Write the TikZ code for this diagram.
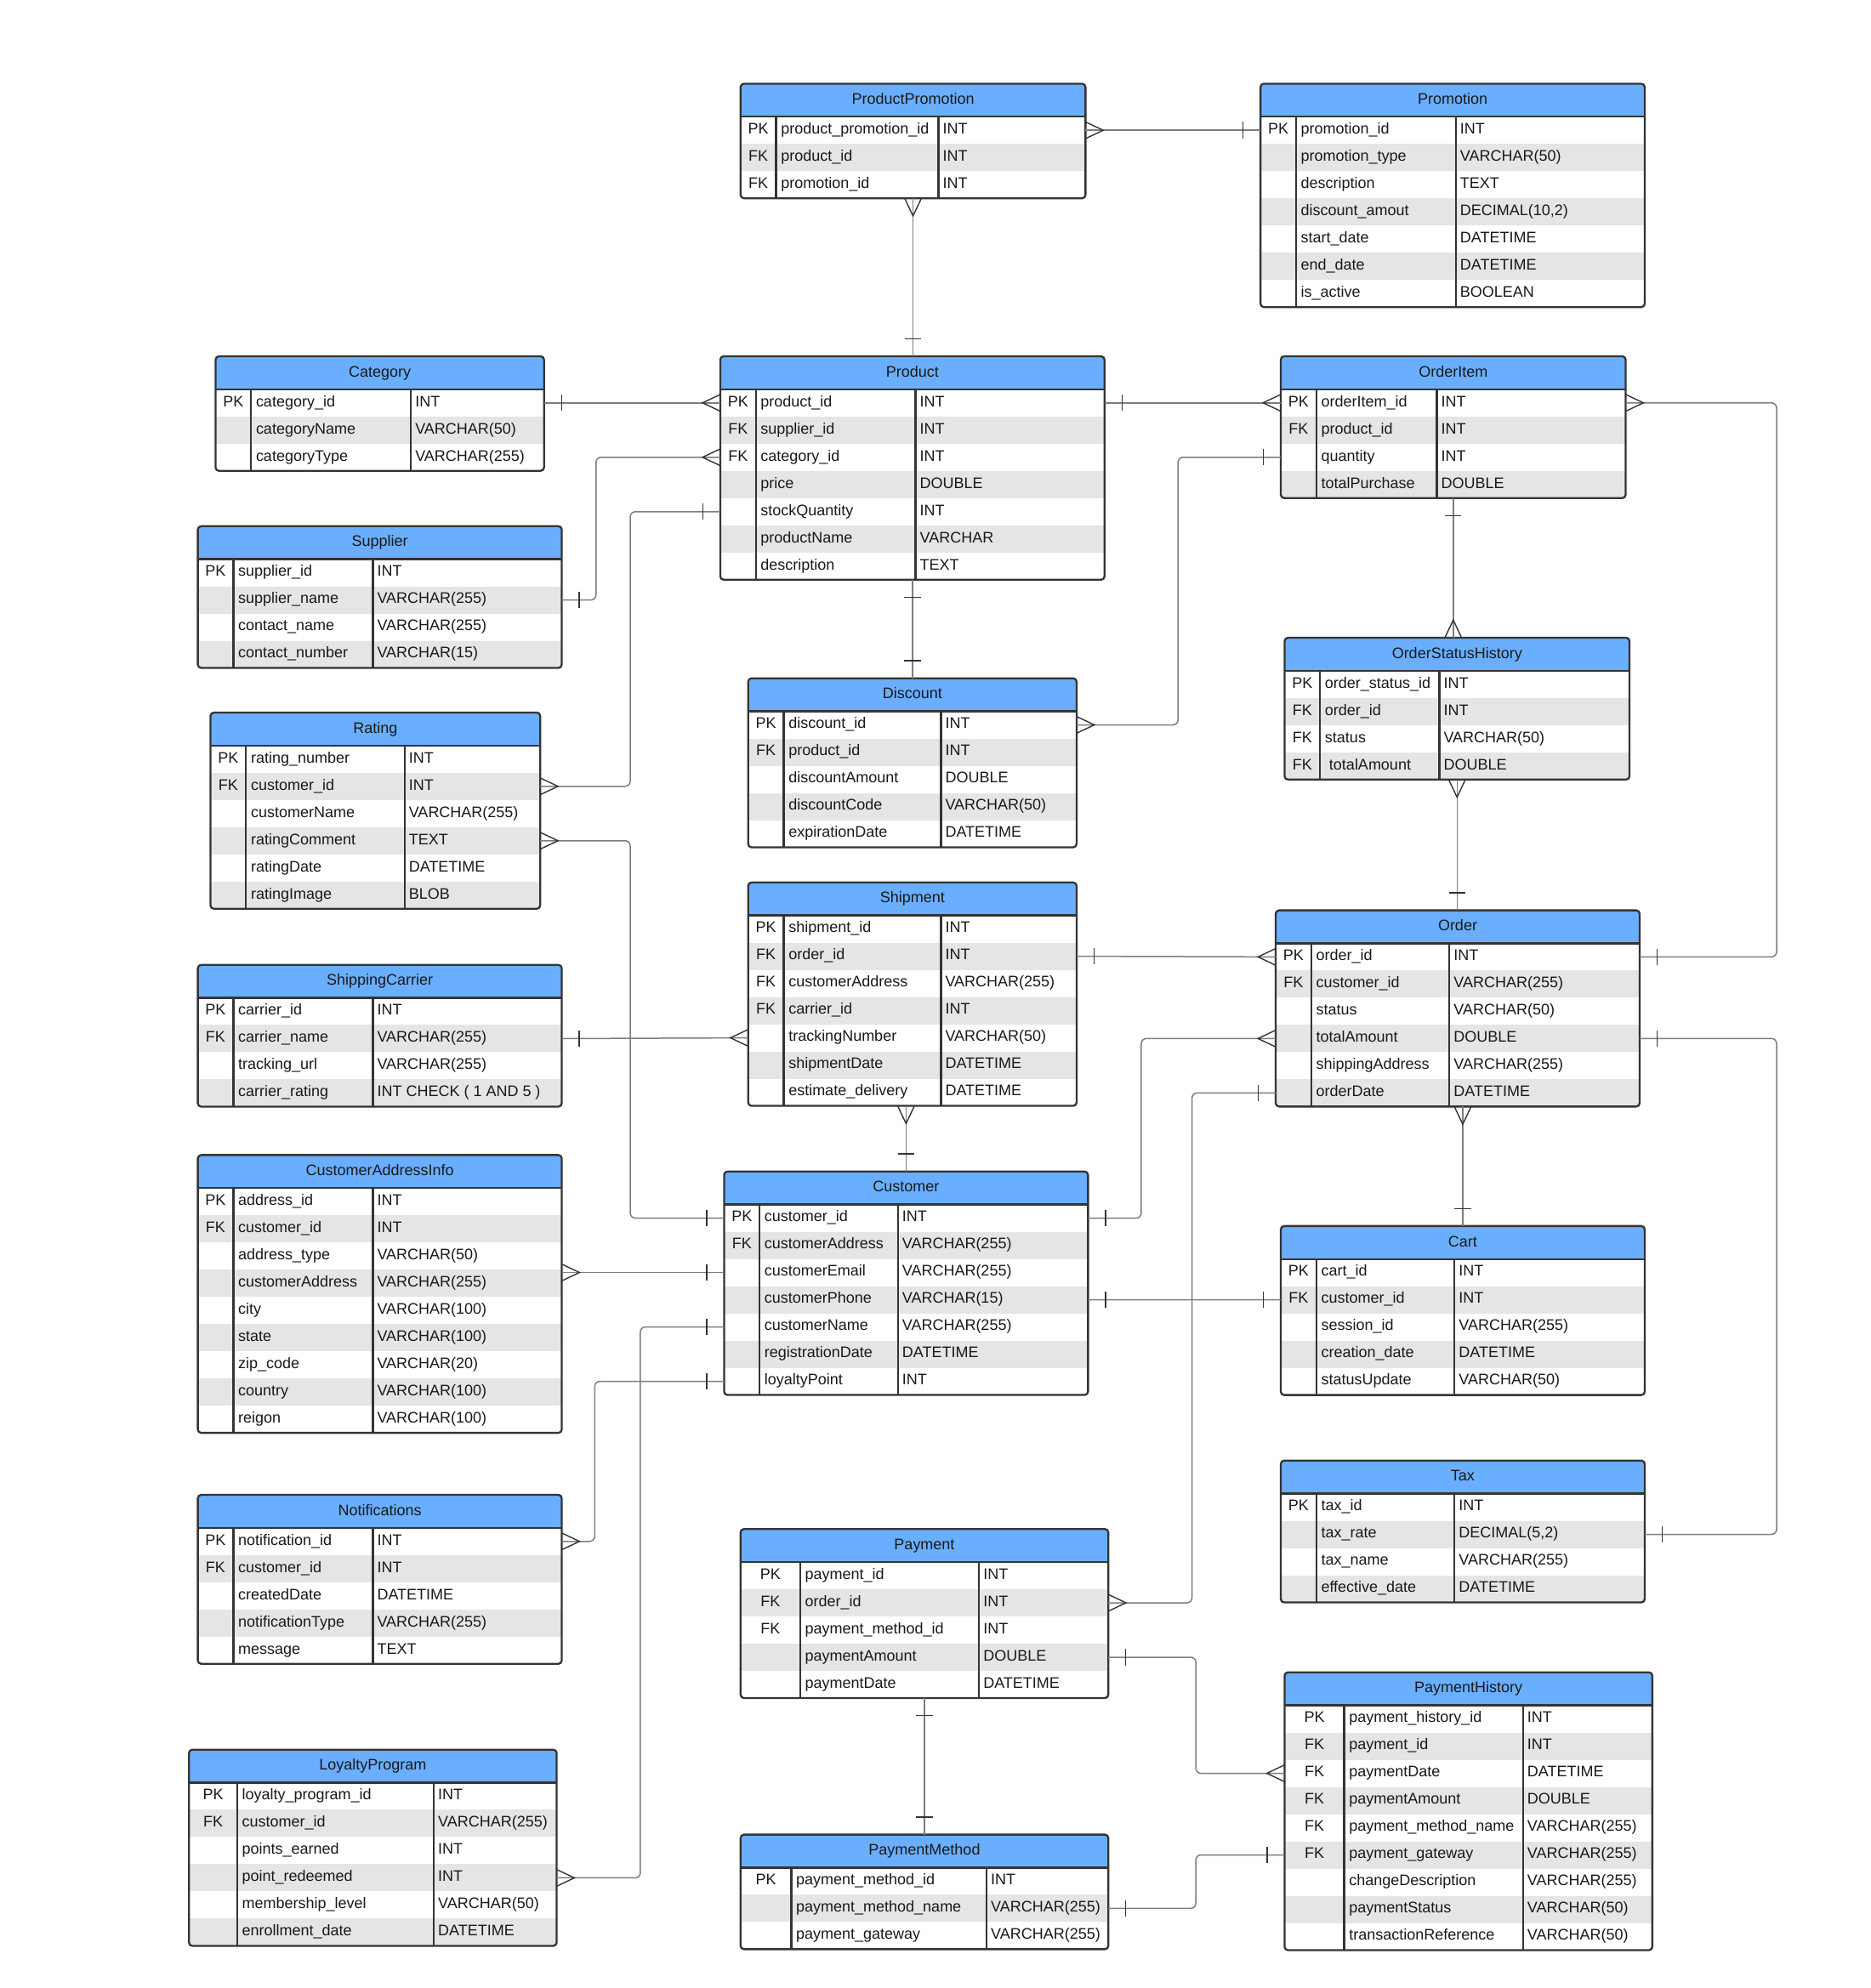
\documentclass[tikz,border=0pt]{standalone}
\usepackage{fontspec}
\setmainfont{Liberation Sans}
\usetikzlibrary{calc}

\definecolor{hdr}{RGB}{106,174,255}
\definecolor{stripe}{RGB}{229,229,229}
\definecolor{edge}{RGB}{52,52,52}
\definecolor{wire}{RGB}{125,125,125}
\definecolor{ink}{RGB}{25,25,25}

\tikzset{
  cell/.style={font=\fontsize{9}{11}\selectfont, text=ink, inner sep=0pt},
  conn/.style={draw=wire, line width=0.75pt, rounded corners=3pt},
  markline/.style={draw=edge, line width=0.7pt},
  tableline/.style={draw=edge, line width=1.15pt},
}

% One entity table: #1 id, #2 left, #3 key divider, #4 name divider,
% #5 right, #6 top, #7 title, #8 rows as key/name/type
\newcommand{\erTable}[8]{%
  \begin{scope}
    \foreach [count=\ri] \rk/\rn/\rt in {#8} {\xdef\nrows{\ri}}
    \pgfmathsetmacro{\hb}{#6+26}
    \pgfmathsetmacro{\tb}{\hb+\nrows*21.46}
    \begin{scope}
      \clip[rounded corners=2pt] (#2,#6) rectangle (#5,\tb);
      \fill[white] (#2,#6) rectangle (#5,\tb);
      \fill[hdr] (#2,#6) rectangle (#5,\hb);
      \foreach [count=\ri] \rk/\rn/\rt in {#8} {
        \pgfmathsetmacro{\ya}{\hb+(\ri-1)*21.46}
        \pgfmathsetmacro{\yb}{\ya+21.46}
        \pgfmathsetmacro{\yc}{\ya+10.73}
        \ifodd\ri\relax\else\fill[stripe] (#2,\ya) rectangle (#5,\yb);\fi
        \node[cell, anchor=base] at ({(#2+#3)/2},\yc+2.9) {\rk};
        \node[cell, anchor=base west] at (#3+3.6,\yc+2.9) {\rn};
        \node[cell, anchor=base west] at (#4+3.2,\yc+2.9) {\rt};
        \coordinate (#1-\ri-w) at (#2,\yc);
        \coordinate (#1-\ri-e) at (#5,\yc);
      }
    \end{scope}
    \node[cell, anchor=base] (#1-title) at ({(#2+#5)/2},#6+16.2) {#7};
    \draw[tableline] (#2,\hb) -- (#5,\hb);
    \draw[tableline] (#3,\hb) -- (#3,\tb);
    \draw[tableline] (#4,\hb) -- (#4,\tb);
    \draw[tableline, rounded corners=2pt] (#2,#6) rectangle (#5,\tb);
    \coordinate (#1-n) at ({(#2+#5)/2},#6);
    \coordinate (#1-s) at ({(#2+#5)/2},\tb);
  \end{scope}%
}

% crow's foot (many) and bar (one) at a table edge, #2 = outward angle
\newcommand{\many}[2]{%
  \begin{scope}[shift={(#1)}, rotate=#2]
    \draw[markline] (0,6.6) -- (14,0) -- (0,-6.6);
  \end{scope}}
\newcommand{\one}[2]{%
  \begin{scope}[shift={(#1)}, rotate=#2]
    \draw[markline] (13.8,6.5) -- (13.8,-6.5);
  \end{scope}}

\begin{document}
\begin{tikzpicture}[x=0.74575pt, y=-0.74575pt]
\useasboundingbox (0,0) rectangle (1475,1568);
\fill[white] (0,0) rectangle (1475,1568);

% ---------- entities ----------
\erTable{pp}{584}{612}{740}{856}{66}{ProductPromotion}{PK/product\_promotion\_id/INT, FK/product\_id/INT, FK/promotion\_id/INT}

\erTable{promo}{994}{1022}{1148}{1297}{66}{Promotion}{PK/promotion\_id/INT, /promotion\_type/VARCHAR(50), /description/TEXT, /discount\_amout/DECIMAL(10{,}2), /start\_date/DATETIME, /end\_date/DATETIME, /is\_active/BOOLEAN}

\erTable{cat}{170}{198}{324}{429}{281}{Category}{PK/category\_id/INT, /categoryName/VARCHAR(50), /categoryType/VARCHAR(255)}

\erTable{prod}{568}{596}{722}{871}{281}{Product}{PK/product\_id/INT, FK/supplier\_id/INT, FK/category\_id/INT, /price/DOUBLE, /stockQuantity/INT, /productName/VARCHAR, /description/TEXT}

\erTable{oi}{1010}{1038}{1133}{1282}{281}{OrderItem}{PK/orderItem\_id/INT, FK/product\_id/INT, /quantity/INT, /totalPurchase/DOUBLE}

\erTable{sup}{156}{184}{294}{443}{415}{Supplier}{PK/supplier\_id/INT, /supplier\_name/VARCHAR(255), /contact\_name/VARCHAR(255), /contact\_number/VARCHAR(15)}

\erTable{osh}{1013}{1041}{1135}{1285}{503}{OrderStatusHistory}{PK/order\_status\_id/INT, FK/order\_id/INT, FK/status/VARCHAR(50), FK/\ totalAmount/DOUBLE}

\erTable{disc}{590}{618}{742}{849}{535}{Discount}{PK/discount\_id/INT, FK/product\_id/INT, /discountAmount/DOUBLE, /discountCode/VARCHAR(50), /expirationDate/DATETIME}

\erTable{rat}{166}{194}{319}{426}{562}{Rating}{PK/rating\_number/INT, FK/customer\_id/INT, /customerName/VARCHAR(255), /ratingComment/TEXT, /ratingDate/DATETIME, /ratingImage/BLOB}

\erTable{ship}{590}{618}{742}{849}{696}{Shipment}{PK/shipment\_id/INT, FK/order\_id/INT, FK/customerAddress/VARCHAR(255), FK/carrier\_id/INT, /trackingNumber/VARCHAR(50), /shipmentDate/DATETIME, /estimate\_delivery/DATETIME}

\erTable{ord}{1006}{1034}{1143}{1293}{718}{Order}{PK/order\_id/INT, FK/customer\_id/VARCHAR(255), /status/VARCHAR(50), /totalAmount/DOUBLE, /shippingAddress/VARCHAR(255), /orderDate/DATETIME}

\erTable{sc}{156}{184}{294}{443}{761}{ShippingCarrier}{PK/carrier\_id/INT, FK/carrier\_name/VARCHAR(255), /tracking\_url/VARCHAR(255), /carrier\_rating/INT CHECK ( 1 AND 5 )}

\erTable{cai}{156}{184}{294}{443}{911}{CustomerAddressInfo}{PK/address\_id/INT, FK/customer\_id/INT, /address\_type/VARCHAR(50), /customerAddress/VARCHAR(255), /city/VARCHAR(100), /state/VARCHAR(100), /zip\_code/VARCHAR(20), /country/VARCHAR(100), /reigon/VARCHAR(100)}

\erTable{cust}{571}{599}{708}{858}{924}{Customer}{PK/customer\_id/INT, FK/customerAddress/VARCHAR(255), /customerEmail/VARCHAR(255), /customerPhone/VARCHAR(15), /customerName/VARCHAR(255), /registrationDate/DATETIME, /loyaltyPoint/INT}

\erTable{cart}{1010}{1038}{1147}{1297}{967}{Cart}{PK/cart\_id/INT, FK/customer\_id/INT, /session\_id/VARCHAR(255), /creation\_date/DATETIME, /statusUpdate/VARCHAR(50)}

\erTable{tax}{1010}{1038}{1147}{1297}{1152}{Tax}{PK/tax\_id/INT, /tax\_rate/DECIMAL(5{,}2), /tax\_name/VARCHAR(255), /effective\_date/DATETIME}

\erTable{notif}{156}{184}{294}{443}{1179}{Notifications}{PK/notification\_id/INT, FK/customer\_id/INT, /createdDate/DATETIME, /notificationType/VARCHAR(255), /message/TEXT}

\erTable{pay}{584}{631}{772}{874}{1206}{Payment}{PK/payment\_id/INT, FK/order\_id/INT, FK/payment\_method\_id/INT, /paymentAmount/DOUBLE, /paymentDate/DATETIME}

\erTable{ph}{1013}{1060}{1201}{1303}{1319}{PaymentHistory}{PK/payment\_history\_id/INT, FK/payment\_id/INT, FK/paymentDate/DATETIME, FK/paymentAmount/DOUBLE, FK/payment\_method\_name/VARCHAR(255), FK/payment\_gateway/VARCHAR(255), /changeDescription/VARCHAR(255), /paymentStatus/VARCHAR(50), /transactionReference/VARCHAR(50)}

\erTable{lp}{149}{187}{342}{439}{1380}{LoyaltyProgram}{PK/loyalty\_program\_id/INT, FK/customer\_id/VARCHAR(255), /points\_earned/INT, /point\_redeemed/INT, /membership\_level/VARCHAR(50), /enrollment\_date/DATETIME}

\erTable{pm}{584}{624}{778}{874}{1447}{PaymentMethod}{PK/payment\_method\_id/INT, /payment\_method\_name/VARCHAR(255), /payment\_gateway/VARCHAR(255)}

% ---------- helper points for straight vertical links ----------
\coordinate (ppProd) at (pp-s |- prod-n);
\coordinate (prodDisc) at (prod-s |- disc-n);
\coordinate (oiOsh) at (oi-s |- osh-n);
\coordinate (oshOrd) at (osh-s |- ord-n);
\coordinate (shipCust) at (cust-n |- ship-s);
\coordinate (ordCart) at (cart-n |- ord-s);
\coordinate (payPm) at (pay-s |- pm-n);
\coordinate (caiCust) at (cust-3-w -| cai-1-e);

% ---------- relationships ----------
\draw[conn] (pp-1-e) -- (promo-1-w);
\many{pp-1-e}{0} \one{promo-1-w}{180}

\draw[conn] (pp-s) -- (ppProd);
\many{pp-s}{-90} \one{ppProd}{90}

\draw[conn] (cat-1-e) -- (prod-1-w);
\one{cat-1-e}{0} \many{prod-1-w}{180}

\draw[conn] (sup-2-e) -- ++(27,0) |- (prod-3-w);
\one{sup-2-e}{0} \many{prod-3-w}{180}

\draw[conn] (rat-2-e) -- ++(71,0) |- (prod-5-w);
\many{rat-2-e}{0} \one{prod-5-w}{180}

\draw[conn] (prod-1-e) -- (oi-1-w);
\one{prod-1-e}{0} \many{oi-1-w}{180}

\draw[conn] (prod-s) -- (prodDisc);
\one{prod-s}{-90} \one{prodDisc}{90}

\draw[conn] (disc-1-e) -- ++(80,0) |- (oi-3-w);
\many{disc-1-e}{0} \one{oi-3-w}{180}

\draw[conn] (oi-s) -- (oiOsh);
\one{oi-s}{-90} \many{oiOsh}{90}

\draw[conn] (oi-1-e) -- ++(119,0) |- (ord-1-e);
\many{oi-1-e}{0} \one{ord-1-e}{0}

\draw[conn] (osh-s) -- (oshOrd);
\many{osh-s}{-90} \one{oshOrd}{90}

\draw[conn] (ship-2-e) -- (ord-1-w);
\one{ship-2-e}{0} \many{ord-1-w}{180}

\draw[conn] (sc-2-e) -- (ship-5-w);
\one{sc-2-e}{0} \many{ship-5-w}{180}

\draw[conn] (shipCust) -- (cust-n);
\many{shipCust}{-90} \one{cust-n}{90}

\draw[conn] (cust-1-e) -- ++(42,0) |- (ord-4-w);
\one{cust-1-e}{0} \many{ord-4-w}{180}

\draw[conn] (ord-4-e) -- ++(108,0) |- (tax-2-e);
\one{ord-4-e}{0} \one{tax-2-e}{0}

\draw[conn] (ordCart) -- (cart-n);
\many{ordCart}{-90} \one{cart-n}{90}

\draw[conn] (cust-4-e) -- (cart-2-w);
\one{cust-4-e}{0} \one{cart-2-w}{180}

\draw[conn] (rat-4-e) -- ++(71,0) |- (cust-1-w);
\many{rat-4-e}{0} \one{cust-1-w}{180}

\draw[conn] (caiCust) -- (cust-3-w);
\many{caiCust}{0} \one{cust-3-w}{180}

\draw[conn] (notif-1-e) -- ++(26,0) |- (cust-7-w);
\many{notif-1-e}{0} \one{cust-7-w}{180}

\draw[conn] (lp-4-e) -- ++(66,0) |- (cust-5-w);
\many{lp-4-e}{0} \one{cust-5-w}{180}

\draw[conn] (pay-2-e) -- ++(66,0) |- (ord-6-w);
\many{pay-2-e}{0} \one{ord-6-w}{180}

\draw[conn] (pay-4-e) -- ++(69,0) |- (ph-3-w);
\one{pay-4-e}{0} \many{ph-3-w}{180}

\draw[conn] (pay-s) -- (payPm);
\one{pay-s}{-90} \one{payPm}{90}

\draw[conn] (pm-2-e) -- ++(69,0) |- (ph-6-w);
\one{pm-2-e}{0} \one{ph-6-w}{180}

\end{tikzpicture}
\end{document}
